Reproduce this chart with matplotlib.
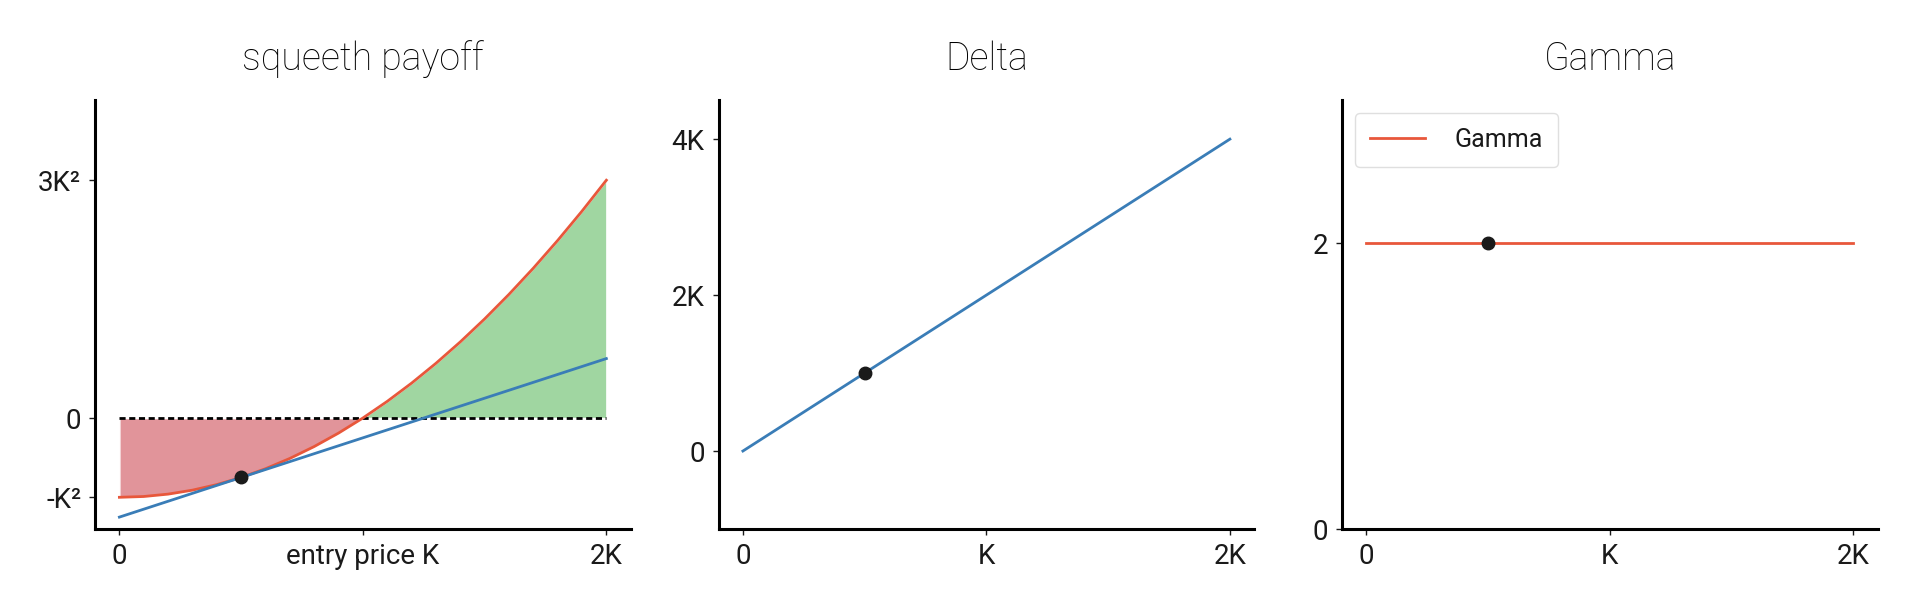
import numpy as np
import matplotlib.pyplot as plt

# price axis in units of K, payoff in units of K^2
price = [0.0, 0.1, 0.2, 0.3, 0.4, 0.5, 0.6, 0.7, 0.8, 0.9, 1.0,
         1.1, 1.2, 1.3, 1.4, 1.5, 1.6, 1.7, 1.8, 1.9, 2.0]
payoff = [-1.0, -0.99, -0.96, -0.91, -0.84, -0.75, -0.64, -0.51, -0.36, -0.19, 0.0,
          0.21, 0.44, 0.69, 0.96, 1.25, 1.56, 1.89, 2.24, 2.61, 3.0]

hedge_x = [0.0, 2.0]
hedge_y = [-1.25, 0.75]
delta_x = [0.0, 2.0]
delta_y = [0.0, 4.0]
gamma_x = [0.0, 2.0]
gamma_y = [2.0, 2.0]

entry = 0.5
entry_payoff = -0.75
entry_delta = 1.0
entry_gamma = 2.0

x_ticks = [0, 1, 2]
payoff_yticks = [-1, 0, 3]
payoff_ylabels = ['-K²', '0', '3K²']
delta_yticks = [0, 2, 4]
delta_ylabels = ['0', '2K', '4K']
gamma_yticks = [0, 2]

ORANGE = '#E8573B'
BLUE = '#3A7DB7'
INK = '#1a1a1a'

plt.rcParams['font.family'] = ['Roboto', 'DejaVu Sans']

fig, axes = plt.subplots(1, 3, figsize=(19.2, 6.07), dpi=100)
fig.subplots_adjust(left=0.0495, right=0.978, bottom=0.1285, top=0.835, wspace=0.164)

px = np.array(price)
py = np.array(payoff)

ax1, ax2, ax3 = axes

# payoff panel
ax1.fill_between(px, py, 0, where=px <= 1.0, color='#E1949A', edgecolor='white', lw=1)
ax1.fill_between(px, py, 0, where=px >= 1.0, color='#A0D6A1', edgecolor='white', lw=1)
ax1.plot([0, 2], [0, 0], color='black', lw=2, linestyle=(0, (2.2, 1.3)))
ax1.plot(px, py, color=ORANGE, lw=2)
ax1.plot(hedge_x, hedge_y, color=BLUE, lw=2)
ax1.plot(entry, entry_payoff, 'o', color=INK, ms=9, zorder=5)
ax1.set_xlim(-0.1, 2.1)
ax1.set_ylim(-1.4, 4.01)
ax1.set_yticks(payoff_yticks, payoff_ylabels)
ax1.set_xticks(x_ticks, ['0', 'entry price K', '2K'])
ax1.set_title('squeeth payoff', fontsize=27, fontweight='light', pad=22)

# delta panel
ax2.plot(delta_x, delta_y, color=BLUE, lw=2)
ax2.plot(entry, entry_delta, 'o', color=INK, ms=9, zorder=5)
ax2.set_xlim(-0.1, 2.1)
ax2.set_ylim(-1, 4.5)
ax2.set_yticks(delta_yticks, delta_ylabels)
ax2.set_xticks(x_ticks, ['0', 'K', '2K'])
ax2.set_title('Delta', fontsize=27, fontweight='light', pad=22)

# gamma panel
ax3.plot(gamma_x, gamma_y, color=ORANGE, lw=2, label='Gamma')
ax3.plot(entry, entry_gamma, 'o', color=INK, ms=9, zorder=5)
ax3.set_xlim(-0.1, 2.1)
ax3.set_ylim(0, 3)
ax3.set_yticks(gamma_yticks, ['0', '2'])
ax3.set_xticks(x_ticks, ['0', 'K', '2K'])
ax3.set_title('Gamma', fontsize=27, fontweight='light', pad=22)
leg = ax3.legend(loc='upper left', fontsize=18, handlelength=2.2, handletextpad=1.2,
                 borderpad=0.6, edgecolor='#d8d8d8', fancybox=True)
for t in leg.get_texts():
    t.set_color(INK)

for ax in axes:
    ax.spines['top'].set_visible(False)
    ax.spines['right'].set_visible(False)
    ax.spines['left'].set_linewidth(2.2)
    ax.spines['bottom'].set_linewidth(2.2)
    ax.tick_params(labelsize=20, length=4, width=1, pad=6, colors=INK)

fig.savefig('out.png', dpi=100)
